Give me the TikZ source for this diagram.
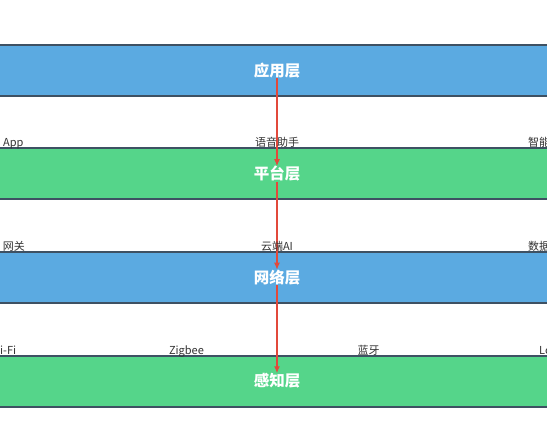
\documentclass[tikz,border=0pt]{standalone}
\usepackage{fontspec}
\setmainfont{Noto Sans CJK SC}
\usepackage{xcolor}
\usepackage{tikz}
\usetikzlibrary{arrows.meta, positioning}

\definecolor{layerblue}{HTML}{5BAAE1}
\definecolor{layergreen}{HTML}{55D58A}
\definecolor{edgeslate}{HTML}{3E5163}
\definecolor{flowred}{HTML}{E2493B}
\definecolor{itemgray}{HTML}{333333}

\pgfdeclarelayer{bands}
\pgfdeclarelayer{links}
\pgfsetlayers{bands,links,main}

\begin{document}
\begin{tikzpicture}[x=1pt, y=-1pt, node distance=50.5pt,
    band/.style={rectangle, draw=edgeslate, line width=2pt, minimum width=720pt, minimum height=51pt, inner sep=0pt},
    title/.style={inner sep=0pt, text=white, font=\fontsize{15.5}{18}\selectfont\bfseries},
    item/.style={inner sep=0pt, text=itemgray, font=\fontsize{11}{13}\selectfont},
    flow/.style={-{Latex[length=7pt, width=6pt]}, draw=flowred, line width=1.6pt}]
    \path[use as bounding box, clip] (0,0) rectangle (547,425);

    % layer bands
    \begin{pgfonlayer}{bands}
    \fill[white] (0,0) rectangle (547,425);
    \node[band, fill=layerblue] (app) at (277,70.5) {};
    \node[band, fill=layergreen, below=of app] (plat) {};
    \node[band, fill=layerblue, below=of plat] (net) {};
    \node[band, fill=layergreen, below=of net] (sense) {};
    \end{pgfonlayer}

    \node[title] (appT) at (app) {应用层};
    \node[title] (platT) at (plat) {平台层};
    \node[title] (netT) at (net) {网络层};
    \node[title] (senseT) at (sense) {感知层};

    % items above each band
    \node[item, anchor=base west] (appA) at (3,147) {App};
    \node[item, anchor=base] (appB) at (277,147) {语音助手};
    \node[item, anchor=base west] (appC) at (528,147) {智能};
    \node[item, anchor=base east] (platA) at (25,250.5) {网关};
    \node[item, anchor=base] (platB) at (277,250.5) {云端AI};
    \node[item, anchor=base west] (platC) at (528,250.5) {数据};
    \node[item, anchor=base west] (netA) at (0,354) {i-Fi};
    \node[item, anchor=base] (netB) at (186.5,354) {Zigbee};
    \node[item, anchor=base] (netC) at (368.5,354) {蓝牙};
    \node[item, anchor=base west] (netD) at (539,354) {Lo};

    \begin{pgfonlayer}{links}
    \draw[flow] (appT) -- (platT);
    \draw[flow] (platT) -- (netT);
    \draw[flow] (netT) -- (senseT);
    \end{pgfonlayer}
\end{tikzpicture}
\end{document}
